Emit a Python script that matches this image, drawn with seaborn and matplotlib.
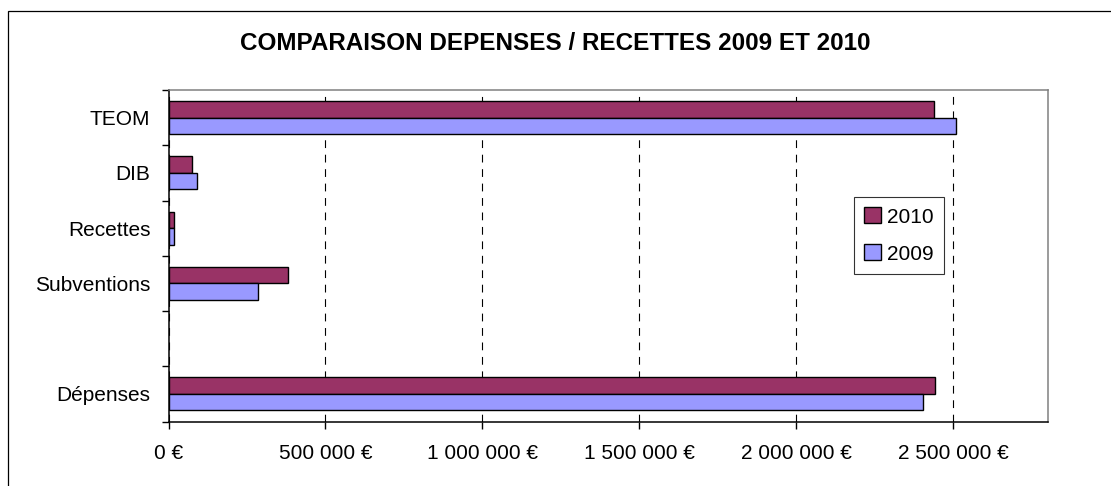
import numpy as np
import pandas as pd
import matplotlib
matplotlib.use("Agg")
import matplotlib.pyplot as plt
from matplotlib.patches import Rectangle
from matplotlib.ticker import FuncFormatter, FixedLocator
import seaborn as sns

# Data (euros)
categories = ['TEOM', 'DIB', 'Recettes', 'Subventions', ' ', 'Dépenses']
years = ['2010', '2009']
values_2010 = [2438000, 75000, 17500, 381000, None, 2443000]
values_2009 = [2507000, 92000, 18500, 286000, None, 2404000]
xticks = [0, 500000, 1000000, 1500000, 2000000, 2500000]
title = 'COMPARAISON DEPENSES / RECETTES 2009 ET 2010'

rows = []
for cat, v10, v09 in zip(categories, values_2010, values_2009):
    if v10 is not None:
        rows.append({'cat': cat, 'year': '2010', 'value': v10})
    if v09 is not None:
        rows.append({'cat': cat, 'year': '2009', 'value': v09})
df = pd.DataFrame(rows)

sns.set_theme(style='white')
plt.rcParams['font.family'] = ['Liberation Sans', 'DejaVu Sans']
plt.rcParams['text.color'] = 'black'
plt.rcParams['xtick.color'] = 'black'
plt.rcParams['ytick.color'] = 'black'

fig = plt.figure(figsize=(11.11, 4.86), dpi=100)
ax = fig.add_axes([168.5 / 1111, 1 - 421.5 / 486, (1047.5 - 168.5) / 1111, (421.5 - 90) / 486])

sns.barplot(data=df, y='cat', x='value', hue='year', order=categories, hue_order=years,
            palette={'2010': '#993366', '2009': '#9999FF'}, orient='h', width=0.6,
            edgecolor='black', linewidth=1.0, saturation=1, ax=ax, zorder=3)

ax.set_xlim(0, 2800000)
ax.set_ylim(len(categories) - 0.5, -0.5)
ax.set_xlabel('')
ax.set_ylabel('')

# x axis
ax.xaxis.set_major_locator(FixedLocator(xticks))
ax.xaxis.set_major_formatter(FuncFormatter(lambda v, p: f"{int(v):,}".replace(',', ' ') + ' €'))
ax.tick_params(axis='x', which='major', bottom=True, length=5, width=1, color='black',
               direction='out', labelsize=15, pad=11, labelcolor='black')
ax.xaxis.grid(True, linestyle=(0, (7, 6)), color='black', linewidth=0.8)
ax.yaxis.grid(False)
ax.set_axisbelow(True)

# y axis: labels centred, tick marks at slot boundaries
ax.set_yticks(range(len(categories)))
ax.set_yticklabels(categories)
ax.set_yticks(np.arange(-0.5, len(categories), 1.0), minor=True)
ax.tick_params(axis='y', which='major', left=False, length=0, labelsize=15, pad=13, labelcolor='black')
ax.tick_params(axis='y', which='minor', left=True, length=5, width=1, color='black', direction='out')

for side in ['left', 'bottom']:
    ax.spines[side].set_color('black')
    ax.spines[side].set_linewidth(1.1)
for side in ['top', 'right']:
    ax.spines[side].set_color('#808080')
    ax.spines[side].set_linewidth(1.1)
    ax.spines[side].set_visible(True)

handles, labels = ax.get_legend_handles_labels()
leg = ax.legend(handles, labels, loc='center', bbox_to_anchor=(899 / 1111, 1 - 235.5 / 486),
                bbox_transform=fig.transFigure, fontsize=15, frameon=True, fancybox=False,
                handlelength=0.8, handleheight=0.8, handletextpad=0.3, labelspacing=0.85,
                borderpad=0.5, edgecolor='black')
leg.get_frame().set_linewidth(0.8)
for h in leg.legend_handles:
    h.set_edgecolor('black')
    h.set_linewidth(1.0)

fig.text(0.5, 1 - 43 / 486, title, ha='center', va='center', fontsize=17.5, fontweight='bold',
         color='black')

# outer chart border (only top and left visible in the crop)
fig.add_artist(Rectangle((8 / 1111, -0.5), 2, 1.5 - 11 / 486, transform=fig.transFigure,
                         fill=False, edgecolor='black', linewidth=0.9, clip_on=False))

fig.savefig('out.png', dpi=100, facecolor='white')
